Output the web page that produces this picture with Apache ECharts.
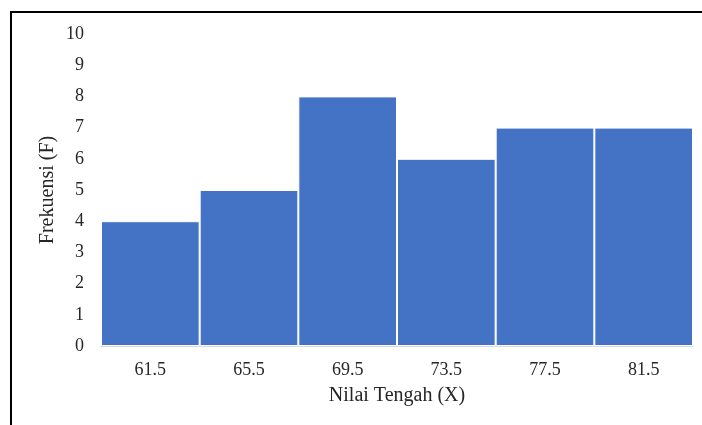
<!DOCTYPE html>
<html><head><meta charset="utf-8">
<script src="https://cdn.jsdelivr.net/npm/echarts@6/dist/echarts.min.js"></script>
<style>html,body{margin:0;padding:0;background:#fff}#c{width:702px;height:425px}</style>
</head><body><div id="c"></div>
<script>
var categories = ['61.5', '65.5', '69.5', '73.5', '77.5', '81.5'];
var frequencies = [4, 5, 8, 6, 7, 7];
var xTitle = 'Nilai Tengah (X)';
var yTitle = 'Frekuensi (F)';
var chart = echarts.init(document.getElementById('c'), null, {renderer: 'canvas'});
var font = '"Liberation Serif", "Times New Roman", serif';
chart.setOption({
  animation: false,
  backgroundColor: '#fff',
  grid: {left: 101, right: 9, top: 34, bottom: 79},
  xAxis: {
    type: 'category', data: categories,
    axisLine: {lineStyle: {color: '#d9d9d9', width: 1}},
    axisTick: {show: false},
    axisLabel: {color: '#262626', fontFamily: font, fontSize: 18, margin: 15},
    name: xTitle, nameLocation: 'middle', nameGap: 40,
    nameTextStyle: {color: '#262626', fontFamily: font, fontSize: 20}
  },
  yAxis: {
    type: 'value', min: 0, max: 10, interval: 1,
    splitLine: {show: false},
    axisLine: {show: false}, axisTick: {show: false},
    axisLabel: {color: '#262626', fontFamily: font, fontSize: 18, margin: 17},
    name: yTitle, nameLocation: 'middle', nameGap: 43, nameMoveOverlap: false,
    nameTextStyle: {color: '#262626', fontFamily: font, fontSize: 20}
  },
  series: [{
    type: 'bar', data: frequencies, barCategoryGap: '0%',
    itemStyle: {color: '#4472C4', borderColor: '#ffffff', borderWidth: 1}
  }],
  graphic: [
    {type: 'line', shape: {x1: 11, y1: 12, x2: 11, y2: 425}, style: {stroke: '#000', lineWidth: 2}},
    {type: 'line', shape: {x1: 10, y1: 12, x2: 702, y2: 12}, style: {stroke: '#000', lineWidth: 2}}
  ]
});
</script></body></html>
